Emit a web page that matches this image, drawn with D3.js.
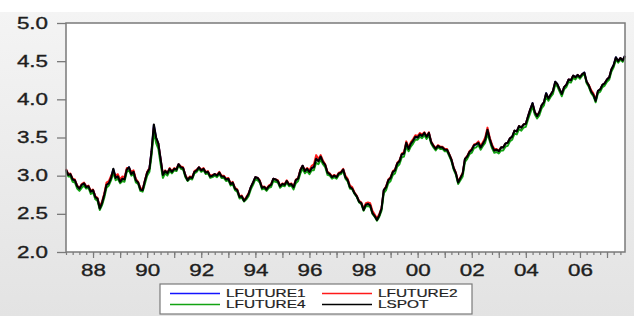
<!DOCTYPE html>
<html>
<head>
<meta charset="utf-8">
<script src="https://cdnjs.cloudflare.com/ajax/libs/d3/7.8.5/d3.min.js"></script>
<style>
  body { margin: 0; background: #fff; }
  #chartbox { width: 634px; height: 316px; }
  svg { display: block; font-family: "Liberation Sans", Arial, sans-serif; }
</style>
</head>
<body>
<div id="chartbox"></div>
<script>
// monthly observations, Jan 1987 .. Sep 2007
var firstMonth = new Date(1987, 0, 1);

var lfuture1 = [
  3.08,3.02,3.02,2.95,2.94,2.87,2.83,2.88,2.90,2.86,2.86,2.79,
  2.81,2.73,2.70,2.58,2.64,2.75,2.88,2.91,2.98,3.08,2.98,2.99,
  2.93,2.96,2.96,3.08,3.11,3.03,3.05,2.95,2.91,2.83,2.81,2.93,
  3.04,3.10,3.32,3.66,3.50,3.42,3.22,3.01,3.06,3.04,3.09,3.05,
  3.09,3.08,3.15,3.11,3.10,3.01,2.94,2.98,2.97,3.05,3.07,3.11,
  3.07,3.09,3.04,3.05,2.99,3.00,3.02,3.00,3.04,2.99,2.99,2.95,
  2.96,2.89,2.91,2.83,2.81,2.73,2.73,2.67,2.71,2.76,2.85,2.91,
  2.98,2.97,2.93,2.84,2.85,2.82,2.86,2.88,2.96,2.95,2.93,2.86,
  2.89,2.88,2.93,2.88,2.89,2.85,2.94,2.96,3.07,3.13,3.06,3.09,
  3.05,3.10,3.12,3.23,3.20,3.25,3.18,3.14,3.04,3.02,2.98,3.00,
  2.98,3.03,3.04,3.08,2.98,2.94,2.85,2.83,2.77,2.73,2.66,2.64,
  2.56,2.62,2.63,2.61,2.52,2.47,2.43,2.48,2.57,2.81,2.85,2.94,
  2.97,3.05,3.07,3.16,3.19,3.28,3.29,3.43,3.35,3.42,3.46,3.51,
  3.50,3.54,3.52,3.56,3.51,3.56,3.44,3.39,3.35,3.39,3.37,3.37,
  3.34,3.34,3.28,3.21,3.10,3.03,2.91,2.97,3.03,3.22,3.25,3.31,
  3.34,3.40,3.41,3.43,3.37,3.42,3.47,3.60,3.48,3.39,3.33,3.34,
  3.32,3.37,3.37,3.42,3.43,3.49,3.51,3.59,3.58,3.65,3.63,3.67,
  3.68,3.78,3.87,3.95,3.83,3.78,3.83,3.92,3.96,4.08,4.01,4.06,
  4.11,4.23,4.20,4.13,4.07,4.16,4.19,4.26,4.25,4.31,4.29,4.32,
  4.29,4.33,4.35,4.23,4.18,4.10,4.06,3.98,4.11,4.13,4.19,4.21,
  4.26,4.29,4.39,4.45,4.55,4.50,4.54,4.51,4.57
];

var lfuture2 = [
  3.09,3.02,3.03,2.96,2.95,2.87,2.84,2.89,2.91,2.86,2.87,2.80,
  2.82,2.73,2.71,2.59,2.66,2.77,2.91,2.93,3.00,3.05,3.00,3.02,
  2.95,2.99,2.98,3.10,3.10,3.05,3.07,2.96,2.92,2.84,2.82,2.94,
  3.05,3.10,3.31,3.63,3.49,3.42,3.22,3.02,3.07,3.04,3.10,3.06,
  3.10,3.09,3.15,3.12,3.11,3.01,2.95,2.99,2.98,3.06,3.08,3.11,
  3.08,3.10,3.05,3.06,3.00,3.01,3.02,3.01,3.05,3.00,3.00,2.96,
  2.97,2.90,2.92,2.84,2.82,2.73,2.74,2.68,2.72,2.77,2.85,2.91,
  2.98,2.97,2.94,2.85,2.86,2.83,2.87,2.89,2.96,2.95,2.94,2.87,
  2.90,2.89,2.94,2.89,2.90,2.86,2.95,2.97,3.08,3.13,3.07,3.10,
  3.07,3.13,3.15,3.27,3.22,3.27,3.20,3.15,3.05,3.03,2.99,3.01,
  2.99,3.04,3.05,3.09,3.00,2.96,2.87,2.85,2.78,2.74,2.67,2.65,
  2.57,2.64,2.65,2.64,2.54,2.49,2.44,2.50,2.58,2.81,2.86,2.95,
  2.98,3.06,3.08,3.17,3.20,3.29,3.31,3.45,3.37,3.44,3.48,3.53,
  3.52,3.56,3.54,3.57,3.52,3.57,3.45,3.40,3.36,3.40,3.38,3.38,
  3.35,3.35,3.29,3.22,3.11,3.04,2.92,2.98,3.04,3.22,3.26,3.32,
  3.35,3.41,3.42,3.45,3.39,3.44,3.50,3.63,3.50,3.41,3.35,3.35,
  3.33,3.37,3.37,3.42,3.43,3.49,3.51,3.59,3.58,3.65,3.63,3.67,
  3.68,3.78,3.87,3.94,3.83,3.79,3.83,3.92,3.96,4.07,4.01,4.06,
  4.11,4.22,4.19,4.13,4.07,4.16,4.19,4.26,4.25,4.31,4.28,4.32,
  4.29,4.33,4.34,4.23,4.19,4.12,4.08,4.00,4.11,4.13,4.19,4.21,
  4.26,4.29,4.39,4.44,4.54,4.50,4.54,4.51,4.56
];

var lfuture4 = [
  3.06,2.99,2.99,2.92,2.91,2.83,2.80,2.84,2.87,2.83,2.84,2.76,
  2.78,2.69,2.67,2.55,2.61,2.71,2.84,2.87,2.94,3.04,2.94,2.96,
  2.90,2.93,2.92,3.05,3.07,3.00,3.02,2.91,2.89,2.80,2.79,2.89,
  3.00,3.05,3.26,3.57,3.43,3.35,3.15,2.97,3.03,3.00,3.06,3.03,
  3.07,3.06,3.13,3.09,3.08,2.98,2.93,2.96,2.95,3.03,3.05,3.09,
  3.05,3.07,3.02,3.03,2.97,2.98,3.00,2.98,3.02,2.97,2.97,2.93,
  2.94,2.87,2.89,2.81,2.79,2.70,2.71,2.66,2.69,2.73,2.82,2.88,
  2.95,2.94,2.91,2.82,2.83,2.80,2.84,2.85,2.93,2.92,2.91,2.84,
  2.87,2.86,2.91,2.86,2.87,2.82,2.90,2.93,3.03,3.09,3.03,3.06,
  3.02,3.07,3.07,3.17,3.15,3.21,3.15,3.11,3.01,3.00,2.96,2.98,
  2.96,3.01,3.02,3.06,2.96,2.92,2.83,2.82,2.76,2.72,2.65,2.63,
  2.54,2.60,2.60,2.59,2.50,2.46,2.41,2.46,2.54,2.77,2.81,2.90,
  2.93,3.01,3.03,3.12,3.15,3.24,3.25,3.38,3.32,3.38,3.42,3.47,
  3.47,3.51,3.49,3.53,3.48,3.53,3.42,3.37,3.33,3.37,3.35,3.35,
  3.32,3.32,3.26,3.19,3.08,3.01,2.89,2.94,2.99,3.18,3.22,3.28,
  3.30,3.36,3.37,3.40,3.34,3.39,3.43,3.55,3.45,3.36,3.30,3.31,
  3.29,3.33,3.33,3.38,3.39,3.45,3.47,3.55,3.54,3.61,3.59,3.63,
  3.64,3.74,3.82,3.91,3.80,3.75,3.79,3.88,3.92,4.04,3.98,4.03,
  4.07,4.19,4.17,4.10,4.04,4.13,4.16,4.23,4.22,4.28,4.26,4.30,
  4.27,4.31,4.33,4.21,4.16,4.08,4.04,3.96,4.08,4.10,4.16,4.18,
  4.23,4.26,4.36,4.42,4.52,4.48,4.52,4.49,4.55
];

var lspot = [
  3.08,3.01,3.02,2.95,2.94,2.86,2.83,2.88,2.90,2.85,2.86,2.79,
  2.81,2.72,2.70,2.57,2.64,2.75,2.88,2.90,2.97,3.09,2.97,2.99,
  2.92,2.96,2.95,3.08,3.11,3.02,3.05,2.94,2.91,2.82,2.81,2.93,
  3.04,3.09,3.32,3.67,3.50,3.42,3.22,3.01,3.06,3.03,3.09,3.05,
  3.09,3.08,3.15,3.11,3.10,3.00,2.94,2.98,2.97,3.05,3.07,3.11,
  3.07,3.09,3.04,3.05,2.99,3.00,3.02,3.00,3.04,2.99,2.99,2.95,
  2.96,2.89,2.91,2.83,2.81,2.72,2.73,2.67,2.71,2.76,2.85,2.91,
  2.98,2.97,2.93,2.84,2.85,2.82,2.86,2.88,2.96,2.95,2.93,2.86,
  2.89,2.88,2.93,2.88,2.89,2.85,2.94,2.96,3.07,3.13,3.06,3.09,
  3.05,3.10,3.11,3.22,3.19,3.25,3.18,3.14,3.04,3.02,2.98,3.00,
  2.98,3.03,3.04,3.08,2.98,2.94,2.85,2.83,2.77,2.73,2.66,2.64,
  2.55,2.62,2.63,2.61,2.51,2.47,2.42,2.48,2.57,2.81,2.85,2.94,
  2.97,3.05,3.07,3.16,3.19,3.28,3.29,3.43,3.35,3.42,3.46,3.51,
  3.50,3.54,3.52,3.56,3.51,3.56,3.44,3.39,3.35,3.39,3.37,3.37,
  3.34,3.34,3.28,3.21,3.10,3.03,2.91,2.97,3.03,3.22,3.25,3.31,
  3.34,3.40,3.41,3.43,3.37,3.42,3.47,3.60,3.48,3.39,3.33,3.34,
  3.32,3.37,3.37,3.42,3.43,3.49,3.51,3.59,3.58,3.65,3.63,3.67,
  3.68,3.78,3.87,3.95,3.83,3.78,3.83,3.92,3.96,4.08,4.01,4.06,
  4.11,4.23,4.20,4.13,4.07,4.16,4.19,4.26,4.25,4.31,4.29,4.32,
  4.29,4.33,4.35,4.23,4.18,4.10,4.06,3.98,4.11,4.13,4.19,4.21,
  4.26,4.29,4.39,4.45,4.55,4.50,4.54,4.51,4.57
];

var seriesNames = ["LFUTURE1", "LFUTURE2", "LFUTURE4", "LSPOT"];
var seriesColors = ["#1414ff", "#ff1a1a", "#13a313", "#000000"];
var yTicks = [2.0, 2.5, 3.0, 3.5, 4.0, 4.5, 5.0];

var allSeries = [lfuture1, lfuture2, lfuture4, lspot];
var dates = lspot.map((d, i) => d3.timeMonth.offset(firstMonth, i));

var W = 634, H = 316;
var stretch = 1.4; // glyphs in the picture are widened
var plot = { left: 66, top: 23, right: 625, bottom: 252 };

var svg = d3.select('#chartbox').append('svg')
    .attr('width', W)
    .attr('height', H);

var grad = svg.append('defs').append('linearGradient')
    .attr('id', 'bg').attr('x1', 0).attr('y1', 0).attr('x2', 0).attr('y2', 1);
grad.append('stop').attr('offset', '0%').attr('stop-color', '#f4f4f4');
grad.append('stop').attr('offset', '100%').attr('stop-color', '#e3e3e3');

svg.append('rect').attr('width', W).attr('height', H).attr('fill', '#fff');
svg.append('rect').attr('y', 12).attr('width', W).attr('height', H - 12).attr('fill', 'url(#bg)');

var x = d3.scaleTime()
    .domain([dates[0], dates[dates.length - 1]])
    .range([plot.left, plot.right]);
var y = d3.scaleLinear()
    .domain([2, 5])
    .range([plot.bottom, plot.top]);

svg.append('rect')
    .attr('x', plot.left).attr('y', plot.top)
    .attr('width', plot.right - plot.left).attr('height', plot.bottom - plot.top)
    .attr('fill', '#fff');

// lines, spot drawn last
var line = d3.line()
    .x((d, i) => x(dates[i]))
    .y(d => y(d));

svg.append('g').selectAll('path')
    .data(allSeries)
    .enter().append('path')
    .attr('d', line)
    .attr('fill', 'none')
    .attr('stroke', (d, i) => seriesColors[i])
    .attr('stroke-width', (d, i) => i === 3 ? 2.1 : 1.9)
    .attr('stroke-linejoin', 'round');

// frame
svg.append('rect')
    .attr('x', plot.left).attr('y', plot.top)
    .attr('width', plot.right - plot.left).attr('height', plot.bottom - plot.top)
    .attr('fill', 'none')
    .attr('stroke', '#7a7a7a')
    .attr('stroke-width', 1.5);

// y axis
var yAxis = svg.append('g')
    .attr('transform', 'translate(' + plot.left + ',0)')
    .call(d3.axisLeft(y).tickValues(yTicks).tickSize(9).tickSizeOuter(0).tickFormat(d3.format('.1f')));
yAxis.select('.domain').remove();
yAxis.selectAll('line').attr('stroke', '#7a7a7a').attr('stroke-width', 1.3);
yAxis.selectAll('text')
    .attr('x', -18 / stretch)
    .attr('transform', 'scale(' + stretch + ',1)')
    .attr('fill', '#1e1e1e')
    .attr('stroke', '#1e1e1e').attr('stroke-width', 0.35)
    .style('font-size', '16px');

// x axis: quarter ticks, year ticks, labels every 2nd year
var quarters = d3.timeMonth.every(3).range(firstMonth, d3.timeMonth.offset(dates[dates.length - 1], 1));
var years = d3.timeYear.range(new Date(1988, 0, 1), new Date(2008, 0, 1));

var xMinor = svg.append('g')
    .attr('transform', 'translate(0,' + plot.bottom + ')')
    .call(d3.axisBottom(x).tickValues(quarters).tickSize(3).tickSizeOuter(0).tickFormat(''));
xMinor.select('.domain').remove();
xMinor.selectAll('line').attr('stroke', '#7a7a7a').attr('stroke-width', 1.2);

var xAxis = svg.append('g')
    .attr('transform', 'translate(0,' + plot.bottom + ')')
    .call(d3.axisBottom(x).tickValues(years).tickSize(6).tickPadding(7).tickSizeOuter(0)
      .tickFormat(d => d.getFullYear() % 2 === 0 ? d3.timeFormat('%y')(d) : ''));
xAxis.select('.domain').remove();
xAxis.selectAll('line').attr('stroke', '#7a7a7a').attr('stroke-width', 1.2);
xAxis.selectAll('text')
    .attr('transform', 'scale(' + stretch + ',1)')
    .attr('fill', '#1e1e1e')
    .attr('stroke', '#1e1e1e').attr('stroke-width', 0.35)
    .style('font-size', '16px');

// legend
var legend = svg.append('g');
legend.append('rect')
    .attr('x', 160).attr('y', 284)
    .attr('width', 312).attr('height', 30)
    .attr('fill', '#fff')
    .attr('stroke', '#7a7a7a')
    .attr('stroke-width', 1.2);

var items = legend.selectAll('g.item')
    .data(seriesNames)
    .enter().append('g')
    .attr('class', 'item')
    .attr('transform', (d, i) => 'translate(' + (i % 2 === 0 ? 170 : 322) + ',' + (i < 2 ? 293.5 : 304.5) + ')');
items.append('line')
    .attr('x1', 0).attr('x2', 50)
    .attr('stroke', (d, i) => seriesColors[i])
    .attr('stroke-width', 1.3);
items.append('text')
    .attr('x', 56 / stretch)
    .attr('dy', '0.36em')
    .attr('transform', 'scale(' + stretch + ',1)')
    .attr('fill', '#1e1e1e')
    .attr('stroke', '#1e1e1e').attr('stroke-width', 0.2)
    .style('font-size', '11px')
    .text(d => d);
</script>
</body>
</html>
